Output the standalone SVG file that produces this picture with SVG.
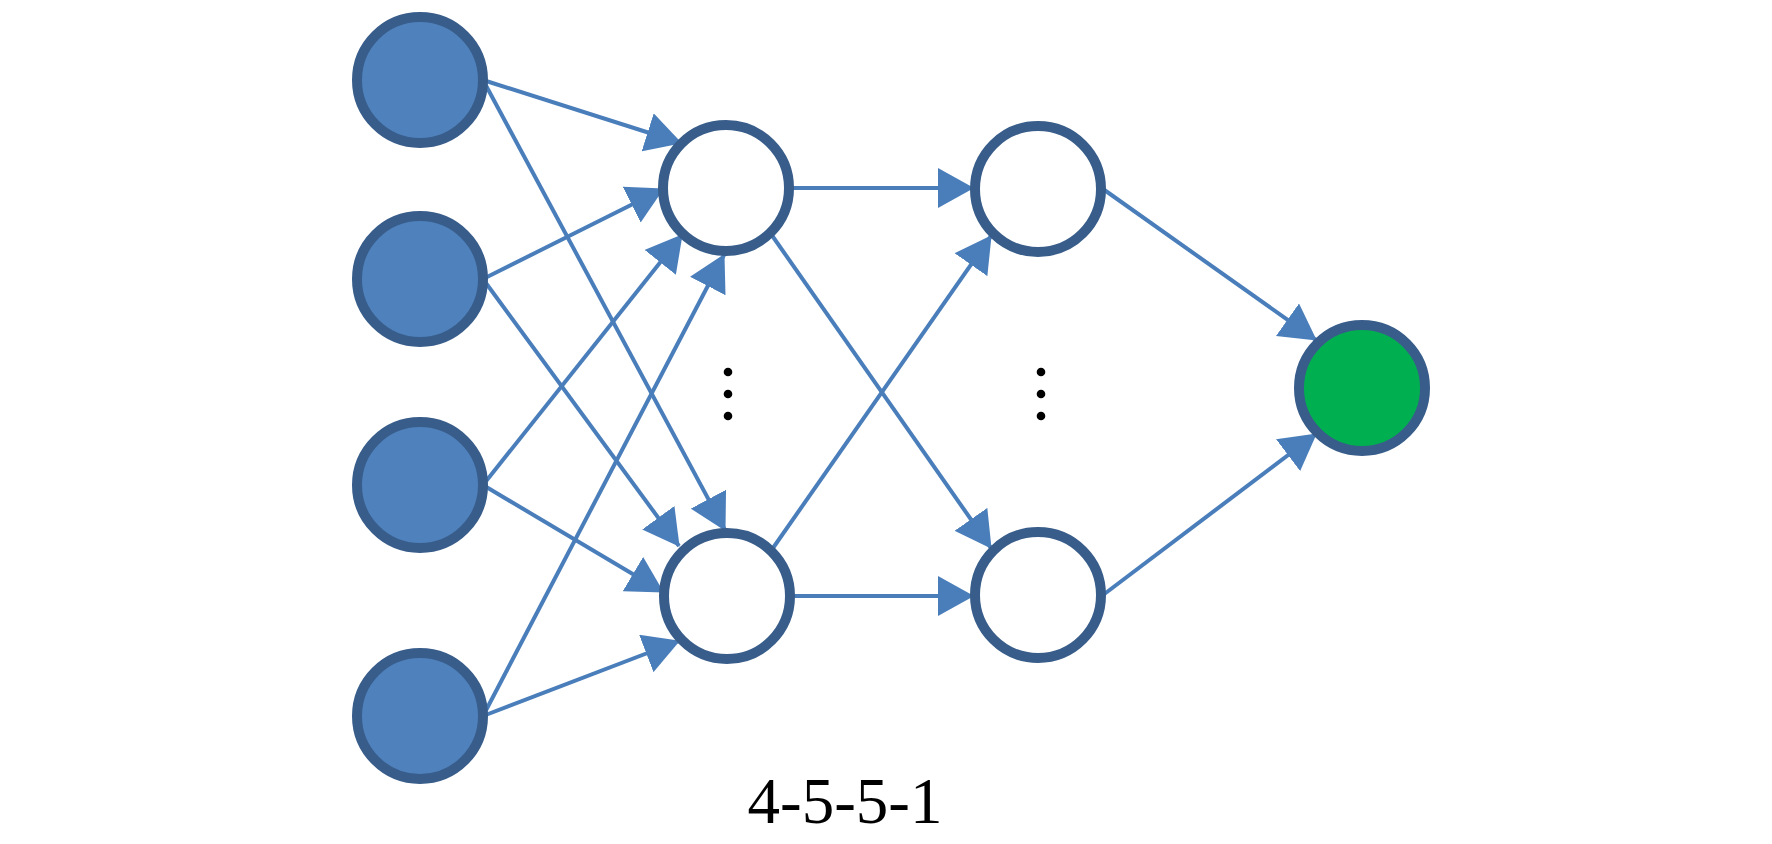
<svg xmlns="http://www.w3.org/2000/svg" width="1772" height="844" viewBox="0 0 1772 844">
<style>
.inp{fill:#4F81BD;stroke:#385D8A;stroke-width:10}
.hid{fill:#FFFFFF;stroke:#385D8A;stroke-width:10}
.out{fill:#00B050;stroke:#385D8A;stroke-width:10}
.c{fill:none;stroke:#4A7EBB;stroke-width:4;marker-end:url(#ah)}
.dot{fill:#000000}
.lbl{font-family:"Liberation Serif","Times New Roman",serif;font-size:65px;fill:#000000}
</style>
<defs>
<marker id="ah" markerUnits="userSpaceOnUse" markerWidth="36" markerHeight="40" refX="35" refY="20" orient="auto">
<path d="M0,0 L36,20 L0,40 z" fill="#4A7EBB"/>
</marker>
</defs>
<rect width="1772" height="844" fill="#FFFFFF"/>
<g id="connectors">
<line class="c" x1="483" y1="80" x2="681" y2="143"/>
<line class="c" x1="483" y1="80" x2="725" y2="530"/>
<line class="c" x1="483" y1="279" x2="663" y2="189"/>
<line class="c" x1="483" y1="279" x2="679" y2="546"/>
<line class="c" x1="483" y1="485" x2="682" y2="235"/>
<line class="c" x1="483" y1="485" x2="663" y2="592"/>
<line class="c" x1="483" y1="716" x2="724" y2="255"/>
<line class="c" x1="483" y1="716" x2="679" y2="641"/>
<line class="c" x1="790" y1="188" x2="973" y2="188"/>
<line class="c" x1="771" y1="234" x2="991" y2="548"/>
<line class="c" x1="773" y1="548" x2="991" y2="236"/>
<line class="c" x1="791" y1="596" x2="973" y2="596"/>
<line class="c" x1="1103" y1="189" x2="1316" y2="340"/>
<line class="c" x1="1103" y1="595" x2="1316" y2="434"/>
</g>
<g id="input1"><circle class="inp" cx="420" cy="80" r="63"/></g>
<g id="input2"><circle class="inp" cx="420" cy="279" r="63"/></g>
<g id="input3"><circle class="inp" cx="420" cy="485" r="63"/></g>
<g id="input4"><circle class="inp" cx="420" cy="716" r="63"/></g>
<g id="hidden1a"><circle class="hid" cx="726" cy="188" r="63"/></g>
<g id="hidden1b"><circle class="hid" cx="727" cy="596" r="63"/></g>
<g id="hidden2a"><circle class="hid" cx="1038" cy="189" r="63"/></g>
<g id="hidden2b"><circle class="hid" cx="1038" cy="595" r="63"/></g>
<g id="output"><circle class="out" cx="1362" cy="388" r="63"/></g>
<g id="ellipsis1">
<circle class="dot" cx="728" cy="372" r="4.3"/>
<circle class="dot" cx="728" cy="394" r="4.3"/>
<circle class="dot" cx="728" cy="416" r="4.3"/>
</g>
<g id="ellipsis2">
<circle class="dot" cx="1041" cy="372" r="4.3"/>
<circle class="dot" cx="1041" cy="394" r="4.3"/>
<circle class="dot" cx="1041" cy="416" r="4.3"/>
</g>
<g id="label"><text class="lbl" x="845" y="823" text-anchor="middle">4-5-5-1</text></g>
</svg>
